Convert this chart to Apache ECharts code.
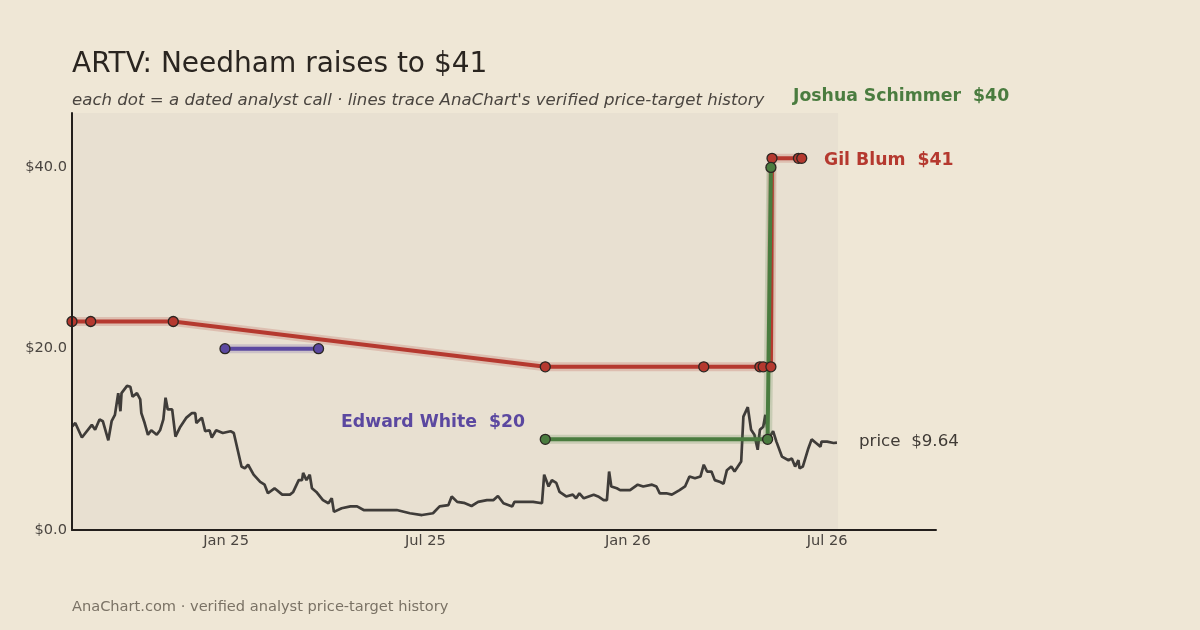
<!DOCTYPE html>
<html>
<head>
<meta charset="utf-8">
<script src="https://cdn.jsdelivr.net/npm/echarts@6/dist/echarts.min.js"></script>
<style>
  html, body { margin: 0; padding: 0; background: #efe7d6; }
  #chart { width: 1200px; height: 630px; }
</style>
</head>
<body>
<div id="chart"></div>
<script>
// 股价：从 2024-08-14 起的天数 + 收盘价
const priceStart = [2024, 7, 14];
const priceDays = [0, 3, 9, 18, 21, 25, 28, 33, 36, 39, 42, 44, 45, 50, 53, 55, 59, 62, 63, 66,
  69, 72, 77, 80, 83, 85, 87, 91, 94, 98, 104, 109, 112, 113, 118, 121, 125, 127, 131, 137,
  144, 147, 154, 157, 160, 165, 171, 175, 178, 184, 191, 198, 201, 206, 209, 210, 213, 216, 218, 222,
  228, 233, 236, 238, 245, 253, 259, 265, 277, 295, 307, 318, 328, 334, 342, 345, 350, 356, 363, 369,
  377, 383, 387, 392, 400, 402, 410, 419, 427, 429, 433, 436, 440, 443, 449, 455, 458, 461, 465, 474,
  478, 483, 486, 488, 490, 495, 498, 507, 514, 519, 527, 531, 534, 540, 545, 552, 557, 561, 566, 571,
  574, 577, 581, 584, 589, 592, 595, 599, 602, 605, 608, 610, 614, 617, 620, 623, 625, 628, 630, 633,
  637, 640, 645, 651, 654, 657, 660, 661, 664, 669, 672, 676, 680, 681, 686, 692, 695];
const priceValues = [11.4, 11.8, 10.2, 11.6, 11.05, 12.2, 12.0, 9.9, 12.0, 12.7, 15.1, 13.1, 15.1, 15.9, 15.8, 14.7, 15.1, 14.4, 12.9, 11.8,
  10.5, 11.0, 10.5, 11.0, 12.2, 14.6, 13.3, 13.3, 10.3, 11.3, 12.4, 12.9, 12.9, 11.8, 12.4, 10.9, 11.0, 10.2, 11.0, 10.7,
  10.9, 10.7, 7.0, 6.8, 7.2, 6.1, 5.3, 5.0, 4.05, 4.6, 3.9, 3.9, 4.2, 5.5, 5.5, 6.3, 5.5, 6.1, 4.6, 4.2,
  3.3, 2.95, 3.5, 2.0, 2.4, 2.6, 2.6, 2.2, 2.2, 2.2, 1.85, 1.65, 1.85, 2.6, 2.75, 3.7, 3.1, 3.0, 2.65, 3.1,
  3.3, 3.3, 3.75, 2.95, 2.6, 3.1, 3.1, 3.1, 2.95, 6.1, 4.8, 5.5, 5.2, 4.2, 3.7, 3.9, 3.5, 4.05, 3.5, 3.9,
  3.7, 3.3, 3.3, 6.45, 4.8, 4.6, 4.4, 4.4, 5.0, 4.8, 5.0, 4.8, 4.05, 4.05, 3.9, 4.4, 4.8, 5.9, 5.7, 5.9,
  7.2, 6.45, 6.45, 5.5, 5.3, 5.1, 6.6, 7.0, 6.45, 7.0, 7.55, 12.5, 13.55, 11.05, 10.5, 8.85, 11.05, 11.4, 12.7, 10.1,
  10.9, 9.75, 8.1, 7.7, 7.9, 7.0, 7.7, 6.8, 7.0, 9.0, 10.0, 9.6, 9.2, 9.75, 9.75, 9.6, 9.64];

// 分析师目标价记录
const gilDates = ['2024-08-14', '2024-08-31', '2024-11-14', '2025-10-18', '2026-03-11', '2026-05-01', '2026-05-04', '2026-05-11', '2026-05-12', '2026-06-05', '2026-06-08'];
const gilTargets = [23, 23, 23, 18, 18, 18, 18, 18, 41, 41, 41];
const joshuaDates = ['2025-10-18', '2026-05-08', '2026-05-11'];
const joshuaTargets = [10, 10, 40];
const edwardDates = ['2024-12-31', '2025-03-26'];
const edwardTargets = [20, 20];

// 坐标轴刻度
const xTickDates = ['2025-01-01', '2025-07-01', '2026-01-01', '2026-07-01'];
const xTickLabels = ['Jan 25', 'Jul 25', 'Jan 26', 'Jul 26'];
const yTicks = [0, 20, 40];

const font = 'DejaVu Sans';
const toTime = s => { const p = s.split('-').map(Number); return new Date(p[0], p[1] - 1, p[2]).getTime(); };
const priceData = priceDays.map((d, i) =>
  [new Date(priceStart[0], priceStart[1], priceStart[2] + d).getTime(), priceValues[i]]);
const pair = (dates, vals) => dates.map((d, i) => [toTime(d), vals[i]]);
const tickTimes = xTickDates.map(toTime);

// 分析师线：底层浅色光晕 + 主线和圆点
function analyst(name, dates, vals, color) {
  const data = pair(dates, vals);
  return [{
    name: name + '-halo', type: 'line', data, symbol: 'none', silent: true,
    lineStyle: { color, width: 9, opacity: 0.2 }, z: 3
  }, {
    name, type: 'line', data, symbol: 'circle', symbolSize: 10,
    itemStyle: { color, borderColor: '#2b2622', borderWidth: 1.3 },
    lineStyle: { color, width: 4 }, z: 4
  }];
}

const chart = echarts.init(document.getElementById('chart'));
chart.setOption({
  backgroundColor: '#efe7d6',
  animation: false,
  textStyle: { fontFamily: font },
  grid: { left: 72, right: 264, top: 113, bottom: 100 },
  xAxis: {
    type: 'value', z: 10,
    min: toTime('2024-08-14'),
    max: toTime('2026-10-08'),
    axisLine: { show: true, onZero: false, lineStyle: { color: '#231f1c', width: 2 } },
    axisTick: { show: false },
    splitLine: { show: false },
    axisLabel: {
      customValues: tickTimes,
      formatter: v => xTickLabels[tickTimes.indexOf(v)] || '',
      color: '#4a4540', fontSize: 14.6, margin: 4, fontFamily: font
    }
  },
  yAxis: {
    type: 'value', min: 0, max: 46, interval: 20, z: 10,
    axisLine: { show: true, lineStyle: { color: '#231f1c', width: 2 } },
    axisTick: { show: false },
    splitLine: { show: false },
    axisLabel: {
      formatter: v => yTicks.includes(v) ? '$' + v.toFixed(1) : '',
      color: '#4a4540', fontSize: 14.6, margin: 5, fontFamily: font
    }
  },
  title: [
    { text: 'ARTV: Needham raises to $41', left: 72, top: 51, padding: 0,
      textStyle: { fontFamily: font, fontSize: 28, fontWeight: 'normal', color: '#2a2520' } },
    { text: "each dot = a dated analyst call · lines trace AnaChart's verified price-target history", left: 72, top: 92, padding: 0,
      textStyle: { fontFamily: font, fontSize: 16.6, fontStyle: 'italic', fontWeight: 'normal', color: '#4a4540' } },
    { text: 'AnaChart.com · verified analyst price-target history', left: 72, top: 600, padding: 0,
      textStyle: { fontFamily: font, fontSize: 14.6, fontWeight: 'normal', color: '#7a7265' } }
  ],
  graphic: [
    { type: 'text', z: 100, left: 793, top: 88, style: { text: 'Joshua Schimmer  $40', fill: '#4a7c3f', font: 'bold 17.3px "DejaVu Sans"' } },
    { type: 'text', z: 100, left: 824, top: 152, style: { text: 'Gil Blum  $41', fill: '#b5392f', font: 'bold 17.3px "DejaVu Sans"' } },
    { type: 'text', z: 100, left: 341, top: 414, style: { text: 'Edward White  $20', fill: '#5b48a0', font: 'bold 17.3px "DejaVu Sans"' } },
    { type: 'text', z: 100, left: 859, top: 433, style: { text: 'price  $9.64', fill: '#403b36', font: '16.7px "DejaVu Sans"' } }
  ],
  series: [
    {
      name: 'price', type: 'line', data: priceData, symbol: 'none',
      lineStyle: { color: '#3f3c39', width: 2.7 }, z: 2,
      markArea: {
        silent: true,
        itemStyle: { color: '#e8e0d1' },
        data: [[{ xAxis: toTime('2024-08-14'), yAxis: 0 }, { xAxis: toTime('2026-07-11'), yAxis: 46 }]]
      }
    },
    ...analyst('Gil Blum', gilDates, gilTargets, '#b5392f'),
    ...analyst('Edward White', edwardDates, edwardTargets, '#5b48a0'),
    ...analyst('Joshua Schimmer', joshuaDates, joshuaTargets, '#4a7c3f')
  ]
});
</script>
</body>
</html>
